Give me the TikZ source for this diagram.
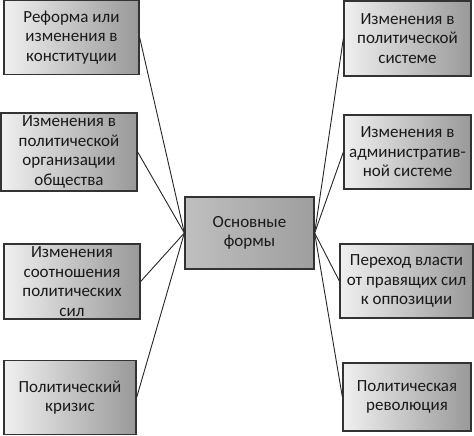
\documentclass[tikz,border=0pt]{standalone}
\usepackage{fontspec}
\setmainfont{Carlito}
\begin{document}
\begin{tikzpicture}[x=1pt,y=-1pt,
  box/.style={draw=black!80, line width=1.3pt, left color=black!6, right color=black!40,
    align=center, inner sep=2pt, font=\fontsize{17}{19.5}\selectfont, text=black!90},
  link/.style={draw=black!85, line width=0.9pt}]
\useasboundingbox (0,0) rectangle (474,436);
\node[box, minimum width=135pt, minimum height=74pt] (l1) at (71.5,37.5) {Реформа или\\изменения в\\конституции};
\node[box, minimum width=136pt, minimum height=78pt] (l2) at (69,152) {Изменения в\\политической\\организации\\общества};
\node[box, minimum width=136pt, minimum height=75pt] (l3) at (72,281.5) {Изменения\\соотношения\\политических\\сил};
\node[box, minimum width=132pt, minimum height=74pt] (l4) at (70,397.5) {Политический\\кризис};
\node[box, minimum width=129pt, minimum height=72pt, left color=black!25, right color=black!38] (c) at (249.5,233) {Основные\\формы};
\node[box, minimum width=127pt, minimum height=75pt] (r1) at (407.5,38.5) {Изменения в\\политической\\системе};
\node[box, minimum width=127pt, minimum height=74pt] (r2) at (407.5,152) {Изменения в\\административ-\\ной системе};
\node[box, minimum width=133pt, minimum height=74pt] (r3) at (406.5,281) {Переход власти\\от правящих сил\\к оппозиции};
\node[box, minimum width=128pt, minimum height=68pt] (r4) at (407,397) {Политическая\\революция};
\foreach \n in {l1,l2,l3,l4} \draw[link] (\n.east) -- (c.west);
\foreach \n in {r1,r2,r3,r4} \draw[link] (\n.west) -- (c.east);
\end{tikzpicture}
\end{document}
